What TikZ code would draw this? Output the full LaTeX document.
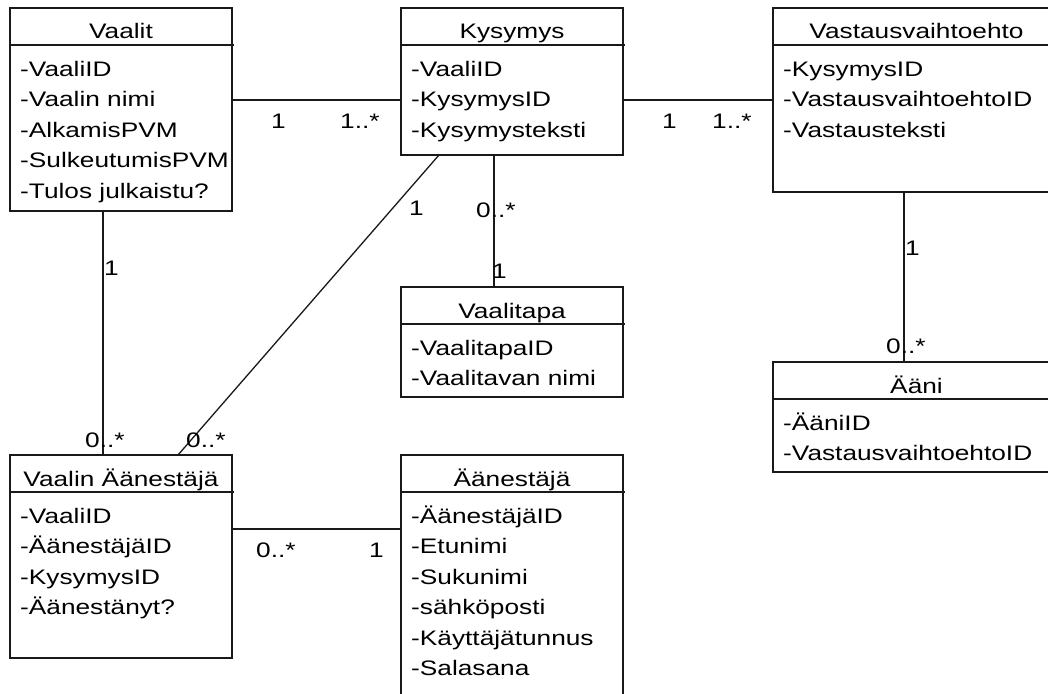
\documentclass[tikz,border=0pt]{standalone}
\usepackage{fontspec}
\setmainfont{Liberation Sans}[FakeStretch=1.25]
\begin{document}
\begin{tikzpicture}[x=1pt, y=-1pt,
  boxline/.style={line width=1.3pt, draw=black!90},
  classbox/.style={boxline, rectangle, anchor=north west, inner sep=0pt, outer sep=0pt},
  titletext/.style={anchor=base, inner sep=0pt, text=black},
  attrtext/.style={anchor=base west, inner sep=0pt, text=black},
  mult/.style={anchor=base west, inner sep=0pt, text=black},
  assoc/.style={line width=1.3pt, draw=black!90},
  every node/.append style={font=\fontsize{21pt}{25pt}\selectfont}]

\useasboundingbox (0,0) rectangle (1048,693);
\fill[white] (0,0) rectangle (1048,693);
\clip (0,0) rectangle (1048,693);

% class box: name, left, top, width, height, title, attribute list
\newcommand{\umlclass}[7]{%
  \node[classbox, minimum width=#4pt, minimum height=#5pt] (#1) at (#2,#3) {};
  \draw[boxline] ([yshift=-37pt]#1.north west) -- ([yshift=-37pt, xshift=2pt]#1.north east);
  \node[titletext] (#1-title) at ([yshift=-31pt]#1.north) {#6};
  \foreach \a [count=\i, evaluate=\i as \dy using {68+(\i-1)*30.5}] in {#7}
    \node[attrtext] (#1-a\i) at ([xshift=10pt, yshift=-\dy pt]#1.north west) {\a};
}

\umlclass{vaalit}{10}{8}{222}{203}{Vaalit}{-VaaliID,-Vaalin nimi,-AlkamisPVM,-SulkeutumisPVM,-Tulos julkaistu?}
\umlclass{kysymys}{401}{8}{222}{147}{Kysymys}{-VaaliID,-KysymysID,-Kysymysteksti}
\umlclass{vastaus}{773}{8}{287}{184}{Vastausvaihtoehto}{-KysymysID,-VastausvaihtoehtoID,-Vastausteksti}
\umlclass{vaalitapa}{401}{287}{222}{110}{Vaalitapa}{-VaalitapaID,-Vaalitavan nimi}
\umlclass{aani}{773}{362}{287}{110}{Ääni}{-ÄäniID,-VastausvaihtoehtoID}
\umlclass{vaanestaja}{10}{455}{222}{203}{Vaalin Äänestäjä}{-VaaliID,-ÄänestäjäID,-KysymysID,-Äänestänyt?}
\umlclass{aanestaja}{401}{455}{222}{250}{Äänestäjä}{-ÄänestäjäID,-Etunimi,-Sukunimi,-sähköposti,-Käyttäjätunnus,-Salasana}

% associations
\draw[assoc] (vaalit.east |- 0,100) -- (kysymys.west |- 0,100);
\draw[assoc] (kysymys.east |- 0,100) -- (vastaus.west |- 0,100);
\draw[assoc] (kysymys.south -| 494,0) -- (vaalitapa.north -| 494,0);
\draw[assoc] (vaalit.south -| 103,0) -- (vaanestaja.north -| 103,0);
\draw[assoc] (kysymys.south -| 439,0) -- (vaanestaja.north -| 178,0);
\draw[assoc] (vaanestaja.east |- 0,529) -- (aanestaja.west |- 0,529);
\draw[assoc] (vastaus.south -| 904,0) -- (aani.north -| 904,0);

% multiplicities
\node[mult] (m-vk1) at (271,128) {1};
\node[mult] (m-vk2) at (340,128) {1..*};
\node[mult] (m-kv1) at (662,128) {1};
\node[mult] (m-kv2) at (712,128) {1..*};
\node[mult] (m-kt1) at (476,217) {0..*};
\node[mult] (m-kt2) at (492,278) {1};
\node[mult] (m-kd1) at (409,215) {1};
\node[mult] (m-vv1) at (104,275) {1};
\node[mult] (m-vv2) at (85,447) {0..*};
\node[mult] (m-kd2) at (186,447) {0..*};
\node[mult] (m-va1) at (256,557) {0..*};
\node[mult] (m-va2) at (369,557) {1};
\node[mult] (m-vo1) at (905,255) {1};
\node[mult] (m-vo2) at (886,353) {0..*};
\end{tikzpicture}
\end{document}
